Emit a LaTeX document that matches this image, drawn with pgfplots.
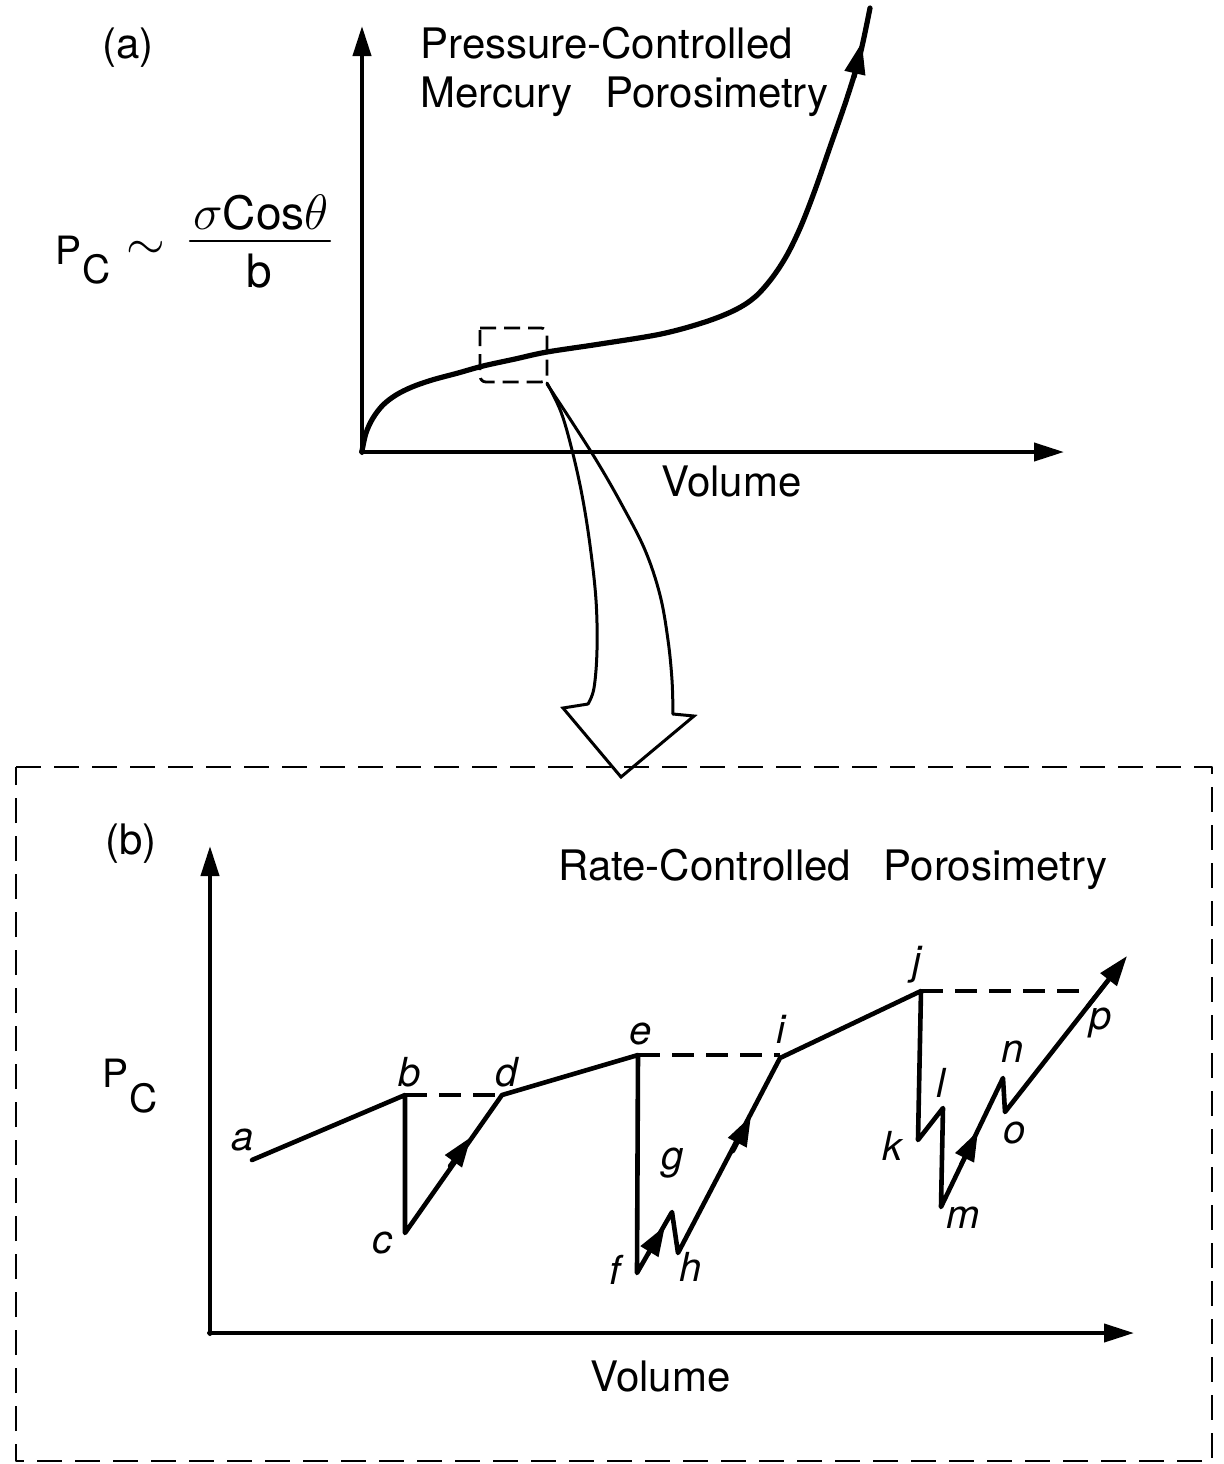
\documentclass[border=0pt]{standalone}
\usepackage{pgfplots}
\pgfplotsset{compat=1.18}
\usetikzlibrary{arrows.meta}
\usepackage{fontspec}
\setmainfont{TeX Gyre Heros}

\newcommand{\txtfont}{\fontsize{21}{25}\selectfont}
\newcommand{\fracfont}{\fontsize{23}{27}\selectfont}
\newcommand{\pcfont}{\fontsize{19.5}{22}\selectfont}
\newcommand{\lbl}{\fontsize{20}{24}\selectfont\itshape}

\begin{document}
\begin{tikzpicture}[every node/.append style={inner sep=0pt}]
\begin{axis}[
  scale only axis, width=612pt, height=732pt,
  xmin=0, xmax=1224, ymin=0, ymax=1464, y dir=reverse,
  hide axis, clip=false,
  every axis plot/.append style={black, line join=round, line cap=round},
  axarrow/.style={line width=2pt, -{Triangle[length=15pt,width=9pt]}},
  midarrow/.style={line width=2.2pt, -{Triangle[length=15pt,width=10pt]}},
  trace/.style={line width=2.3pt},
  guide/.style={line width=1.7pt, dash pattern=on 11pt off 6pt, line cap=butt},
]

% ---------------- (a) pressure-controlled porosimetry ----------------
\addplot[axarrow] coordinates {(362,453) (362,26)};
\addplot[axarrow] coordinates {(361,452) (1064,452)};

% intrusion curve
\addplot[line width=2.6pt, smooth, tension=0.55] coordinates {
  (362,451) (366,433) (373,418) (383,405) (396,395) (412,387)
  (432,380) (458,373) (483,366) (515,359) (547,352) (600,344)
  (661,334) (705,322) (735,310) (755,297) (772,278) (787,255)
  (801,226) (815,190) (830,147) (847,98) (860,55) (870,8)};
\addplot[line width=2.6pt, -{Triangle[length=16pt,width=10pt]}] coordinates {(854,77) (862,42)};

% zoom window
\addplot[line width=1.4pt, dash pattern=on 8pt off 4pt, rounded corners=3pt, line cap=butt]
  coordinates {(480,328) (547,328) (547,382) (480,382) (480,328)};

% large curved arrow from the window down to panel (b)
\addplot[line width=1.5pt, smooth, tension=0.6] coordinates {
  (547,383) (561,412) (572,450) (582,495) (590,545) (596,600) (597,650) (594,688) (588,704)};
\addplot[line width=1.5pt, line join=miter] coordinates {
  (588,704) (563,708) (621,777) (694,716) (673,714)};
\addplot[line width=1.5pt, smooth, tension=0.6] coordinates {
  (673,714) (672,680) (668,640) (660,595) (645,550) (622,505) (598,463) (572,422) (547,384)};

% ---------------- (b) rate-controlled porosimetry ----------------
\addplot[line width=1.4pt, dash pattern=on 12.5pt off 6.5pt, line cap=butt] coordinates {
  (16,767) (1212,767) (1212,1461) (16,1461) (16,767)};

\addplot[axarrow] coordinates {(210,1334) (210,846)};
\addplot[axarrow] coordinates {(209,1333) (1134,1333)};

% pressure trace a -> p
\addplot[trace] coordinates {
  (252,1160) (405,1095) (405,1233) (502,1095) (638,1055) (637,1273)
  (672,1212) (678,1253) (780,1058) (921,991) (918,1140) (943,1108)
  (941,1207) (1003,1078) (1005,1112) (1110,978)};
\addplot[midarrow] coordinates {(450,1166) (471,1137)};
\addplot[midarrow] coordinates {(648,1254) (665,1226)};
\addplot[midarrow] coordinates {(733,1151) (751,1116)};
\addplot[midarrow] coordinates {(961,1165) (978,1131)};
\addplot[midarrow] coordinates {(1088,1006) (1127,956)};

% capillary-pressure levels carried across
\addplot[guide] coordinates {(405,1095) (502,1095)};
\addplot[guide] coordinates {(638,1055) (780,1055)};
\addplot[guide] coordinates {(921,991) (1082,991)};

% ---------------- text ----------------
\node[font=\txtfont] at (axis cs:128,48) {(a)};
\node[font=\txtfont, anchor=base west] at (axis cs:420,58) {Pressure-Controlled};
\node[font=\txtfont, anchor=base west] at (axis cs:420,107) {Mercury\hspace{0.5em} Porosimetry};
\node[font=\txtfont, anchor=base west] at (axis cs:661,496) {Volume};

\node[font=\pcfont, anchor=base west] at (axis cs:55,264) {P};
\node[font=\pcfont, anchor=base west] at (axis cs:82,283) {C};
\node[font=\fontsize{34}{34}\selectfont] at (axis cs:146,250) {$\sim$};
\node[font=\fracfont, anchor=base] at (axis cs:261,229) {$\sigma$Cos$\theta$};
\addplot[line width=1.1pt] coordinates {(190,241) (330,241)};
\node[font=\fracfont, anchor=base] at (axis cs:259,287) {b};

\node[font=\txtfont] at (axis cs:131,844) {(b)};
\node[font=\txtfont, anchor=base west] at (axis cs:558,880) {Rate-Controlled\hspace{0.5em} Porosimetry};
\node[font=\txtfont, anchor=base west] at (axis cs:590,1391) {Volume};
\node[font=\pcfont, anchor=base west] at (axis cs:102,1087) {P};
\node[font=\pcfont, anchor=base west] at (axis cs:129,1112) {C};

\node[font=\lbl] at (axis cs:243,1140) {a};
\node[font=\lbl] at (axis cs:410,1072) {b};
\node[font=\lbl] at (axis cs:382,1243) {c};
\node[font=\lbl] at (axis cs:507,1072) {d};
\node[font=\lbl] at (axis cs:641,1034) {e};
\node[font=\lbl] at (axis cs:615,1270) {f};
\node[font=\lbl] at (axis cs:673,1163) {g};
\node[font=\lbl] at (axis cs:691,1267) {h};
\node[font=\lbl] at (axis cs:781,1029) {i};
\node[font=\lbl] at (axis cs:917,965) {j};
\node[font=\lbl] at (axis cs:892,1146) {k};
\node[font=\lbl] at (axis cs:941,1083) {l};
\node[font=\lbl] at (axis cs:963,1218) {m};
\node[font=\lbl] at (axis cs:1013,1052) {n};
\node[font=\lbl] at (axis cs:1015,1133) {o};
\node[font=\lbl] at (axis cs:1101,1023) {p};
\end{axis}
\pgfresetboundingbox
\useasboundingbox (current axis.south west) rectangle (current axis.north east);
\end{tikzpicture}
\end{document}
